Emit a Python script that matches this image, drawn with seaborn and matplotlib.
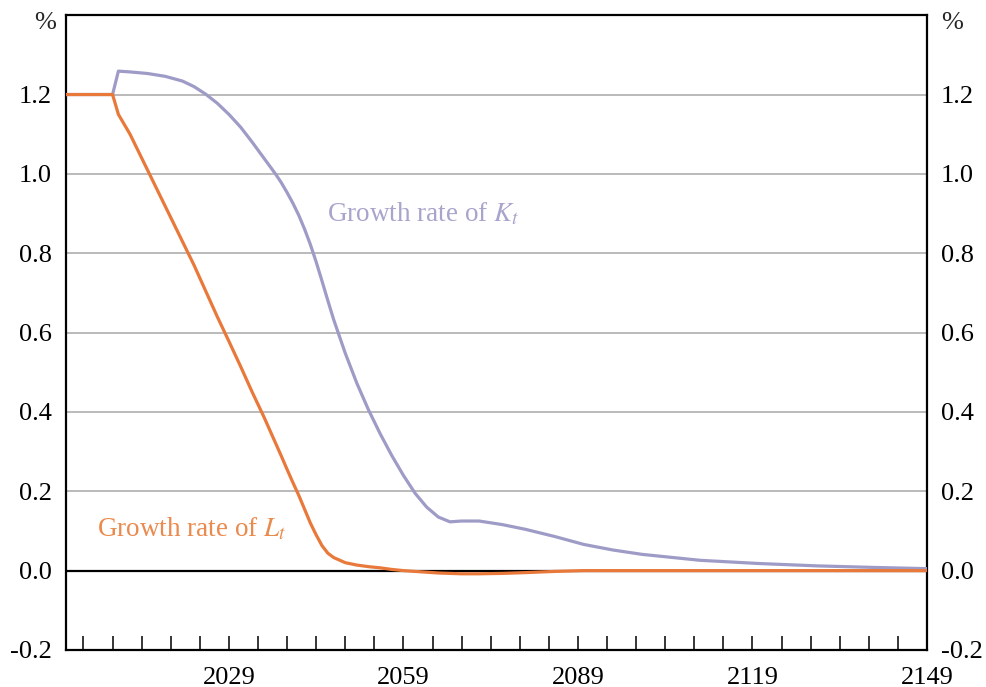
import matplotlib
matplotlib.use("Agg")
import matplotlib.pyplot as plt
import numpy as np
import pandas as pd
import seaborn as sns

# values (per cent)
years = [2001, 2009, 2010, 2012, 2015, 2018, 2021, 2023, 2025, 2027, 2029, 2031,
         2033, 2035, 2037, 2038, 2039, 2040, 2041, 2042, 2043, 2044, 2045, 2046,
         2047, 2049, 2051, 2053, 2055, 2057, 2059, 2061, 2063, 2065, 2067, 2069,
         2072, 2076, 2080, 2085, 2090, 2095, 2100, 2110, 2120, 2130, 2140, 2149]
growth_k = [1.20, 1.20, 1.259, 1.257, 1.253, 1.246, 1.234, 1.22, 1.201, 1.178, 1.15, 1.118,
            1.08, 1.04, 1.0, 0.978, 0.953, 0.926, 0.896, 0.861, 0.822, 0.778, 0.73, 0.681,
            0.633, 0.548, 0.472, 0.405, 0.345, 0.29, 0.24, 0.195, 0.16, 0.135, 0.123, 0.125,
            0.125, 0.116, 0.104, 0.086, 0.066, 0.052, 0.041, 0.026, 0.018, 0.012, 0.008, 0.005]
growth_l = [1.20, 1.20, 1.15, 1.10, 1.01, 0.92, 0.83, 0.77, 0.705, 0.64, 0.578, 0.515,
            0.45, 0.388, 0.322, 0.289, 0.255, 0.222, 0.19, 0.155, 0.12, 0.09, 0.063, 0.044,
            0.033, 0.02, 0.014, 0.01, 0.007, 0.003, 0.0, -0.002, -0.004, -0.006, -0.007, -0.008,
            -0.008, -0.007, -0.005, -0.002, 0.0, 0.0, 0.0, 0.0, 0.0, 0.0, 0.0, 0.0]

y_ticks = [-0.2, 0.0, 0.2, 0.4, 0.6, 0.8, 1.0, 1.2]
x_labelled = [2029, 2059, 2089, 2119, 2149]

k_colour = "#9e9bc7"
l_colour = "#e8793a"

sns.set_theme(style="white")
plt.rcParams["font.family"] = ["Liberation Serif", "DejaVu Serif"]
plt.rcParams["mathtext.fontset"] = "stix"
plt.rcParams["axes.unicode_minus"] = False

df = pd.DataFrame({"year": years, "K": growth_k, "L": growth_l})

fig = plt.figure(figsize=(9.87, 6.87), dpi=100)
ax = fig.add_axes([0.0669, 0.0539, 0.8723, 0.924])

# grid lines first so the series sit on top
for v in y_ticks[2:]:
    ax.axhline(v, color="#b4b4b4", lw=1.3, zorder=1)
ax.axhline(0.0, color="black", lw=1.6, zorder=1)

sns.lineplot(data=df, x="year", y="K", color=k_colour, lw=2.3, ax=ax, zorder=3)
sns.lineplot(data=df, x="year", y="L", color=l_colour, lw=2.3, ax=ax, zorder=4)

ax.set_xlim(2001, 2149)
ax.set_ylim(-0.2, 1.4)
ax.set_xlabel("")
ax.set_ylabel("")

ax.set_yticks(y_ticks)
ax.set_yticklabels([f"{v:.1f}" for v in y_ticks])
ax.tick_params(axis="y", left=False, right=False, labelleft=True, labelright=True,
               labelsize=19, pad=4, colors="black")

xt = list(range(2004, 2150, 5))
ax.set_xticks(xt)
ax.set_xticklabels([str(t) if t in x_labelled else "" for t in xt])
ax.tick_params(axis="x", direction="in", bottom=True, length=10, width=1.1,
               labelsize=19, pad=12, colors="black")

for s in ax.spines.values():
    s.set_color("black")
    s.set_linewidth(1.6)

ax.text(-0.024, 0.988, "%", transform=ax.transAxes, ha="center", va="center", fontsize=19)
ax.text(1.029, 0.988, "%", transform=ax.transAxes, ha="center", va="center", fontsize=19)

ax.text(2045.8, 0.88, r"Growth rate of $K_t$", color="#a8a5cc", fontsize=19.5,
        ha="left", va="baseline")
ax.text(2006.3, 0.086, r"Growth rate of $L_t$", color="#ea8a4e", fontsize=19.5,
        ha="left", va="baseline")

fig.savefig("out.png", dpi=100)
